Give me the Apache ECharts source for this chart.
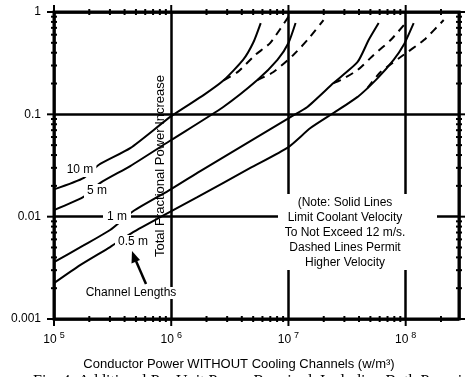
<!DOCTYPE html>
<html>
<head>
<meta charset="utf-8">
<script src="https://cdn.jsdelivr.net/npm/echarts@6/dist/echarts.min.js"></script>
<style>
html, body { margin: 0; padding: 0; background: #fff; }
#chart { width: 465px; height: 377px; }
</style>
</head>
<body>
<div id="chart"></div>
<script>
// axis ranges / tick labels
var xMin = 1e5, xMax = 2.85e8;
var yMin = 0.001, yMax = 1;
var xMajor = [1e5, 1e6, 1e7, 1e8];
var xTickLabels = ['5', '6', '7', '8'];
var yMajor = [0.001, 0.01, 0.1, 1];
var yTickLabels = ['0.001', '0.01', '0.1', '1'];

// 10 m channel
var len10x = [1e5, 1.8e5, 2.4e5, 4.5e5, 1e6, 1.9e6, 2.8e6, 4.1e6, 5e6, 5.8e6];
var len10y = [0.0185, 0.024, 0.032, 0.047, 0.096, 0.155, 0.215, 0.34, 0.5, 0.78];
var len10dx = [2.8e6, 3.7e6, 5.2e6, 7e6, 1.02e7];
var len10dy = [0.215, 0.26, 0.38, 0.5, 0.93];
// 5 m channel
var len5x = [1e5, 1.77e5, 2.47e5, 4.47e5, 1e6, 2.78e6, 5.43e6, 8.05e6, 1e7, 1.15e7];
var len5y = [0.0116, 0.0155, 0.0213, 0.0312, 0.0561, 0.118, 0.216, 0.34, 0.498, 0.78];
var len5dx = [5.43e6, 7.45e6, 1.1e7, 1.45e7, 1.99e7];
var len5dy = [0.216, 0.259, 0.38, 0.532, 0.835];
// 1 m channel
var len1x = [1e5, 1.77e5, 3.01e5, 4.73e5, 1e6, 1.77e6, 4.73e6, 1.04e7, 1.45e7, 2.42e7, 3.89e7, 4.83e7, 5.88e7];
var len1y = [0.0036, 0.0052, 0.0074, 0.0113, 0.0186, 0.0279, 0.0548, 0.094, 0.118, 0.202, 0.325, 0.532, 0.78];
var len1dx = [2.42e7, 2.78e7, 3.89e7, 5.33e7, 7.45e7, 1e8];
var len1dy = [0.202, 0.216, 0.271, 0.38, 0.532, 0.78];
// 0.5 m channel
var len05x = [1e5, 1.67e5, 3.01e5, 4.73e5, 8.06e5, 1.67e6, 4.73e6, 1e7, 1.54e7, 2.42e7, 3.89e7, 5.77e7, 7.89e7, 9.6e7, 1.17e8];
var len05y = [0.00224, 0.00336, 0.00505, 0.00707, 0.0099, 0.0155, 0.0299, 0.0479, 0.0734, 0.103, 0.148, 0.226, 0.34, 0.475, 0.78];
var len05dx = [4.73e7, 6.11e7, 9.05e7, 1.43e8, 2.11e8];
var len05dy = [0.181, 0.259, 0.363, 0.532, 0.835];

var FONT = '"Liberation Sans", Arial, sans-serif';

function zip(xs, ys) {
  return xs.map(function (x, i) { return [x, ys[i]]; });
}

// minor ticks 2..9 per decade
var xMinor = [], yMinor = [];
xMajor.forEach(function (d) {
  for (var k = 2; k < 10; k++) if (d * k < xMax) xMinor.push(d * k);
});
yMajor.slice(0, 3).forEach(function (d) {
  for (var k = 2; k < 10; k++) yMinor.push(d * k);
});

function curve(name, pts, dashed) {
  return {
    name: name,
    type: 'line',
    data: pts,
    smooth: 0.2,
    symbol: 'none',
    z: 3,
    lineStyle: { color: '#000', width: 2, type: dashed ? [8, 6] : 'solid' }
  };
}

// ticks on all four sides
function xTicks(vals, out, inn) {
  return {
    type: 'custom',
    data: vals.map(function (v) { return [v, yMin]; }),
    z: 4,
    silent: true,
    renderItem: function (params, api) {
      var v = api.value(0);
      var b = api.coord([v, yMin]), t = api.coord([v, yMax]);
      var st = { stroke: '#000', lineWidth: 2 };
      return { type: 'group', children: [
        { type: 'line', shape: { x1: b[0], y1: b[1] - inn, x2: b[0], y2: b[1] + out }, style: st },
        { type: 'line', shape: { x1: t[0], y1: t[1] + inn, x2: t[0], y2: t[1] - out }, style: st }
      ] };
    }
  };
}
function yTicks(vals, out, inn) {
  return {
    type: 'custom',
    data: vals.map(function (v) { return [xMin, v]; }),
    z: 4,
    silent: true,
    renderItem: function (params, api) {
      var v = api.value(1);
      var l = api.coord([xMin, v]), r = api.coord([xMax, v]);
      var st = { stroke: '#000', lineWidth: 2 };
      return { type: 'group', children: [
        { type: 'line', shape: { x1: l[0] + inn, y1: l[1], x2: l[0] - out, y2: l[1] }, style: st },
        { type: 'line', shape: { x1: r[0] - inn, y1: r[1], x2: r[0] + out, y2: r[1] }, style: st }
      ] };
    }
  };
}

function isDecade(v) {
  var e = Math.log10(v);
  return Math.abs(e - Math.round(e)) < 1e-6;
}

var chart = echarts.init(document.getElementById('chart'));
var option = {
  animation: false,
  backgroundColor: '#fff',
  grid: { left: 54, right: 6, top: 12, bottom: 58, show: true, borderColor: '#000', borderWidth: 3, backgroundColor: 'transparent' },
  xAxis: {
    type: 'log', logBase: 10, min: xMin, max: xMax,
    axisLine: { show: false }, axisTick: { show: false },
    splitLine: { show: true, lineStyle: { color: '#000', width: 2.5 } },
    axisLabel: {
      margin: 12, color: '#000', fontFamily: FONT,
      formatter: function (v) {
        if (!isDecade(v)) return '';
        var i = xMajor.indexOf(Math.pow(10, Math.round(Math.log10(v))));
        if (i < 0) return '';
        return '{b|10}{s|' + xTickLabels[i] + '}';
      },
      rich: {
        b: { fontSize: 12, fontFamily: FONT, color: '#000', lineHeight: 18 },
        s: { fontSize: 9, fontFamily: FONT, color: '#000', verticalAlign: 'top', padding: [0, 0, 0, 3], lineHeight: 10 }
      }
    }
  },
  yAxis: {
    type: 'log', logBase: 10, min: yMin, max: yMax,
    axisLine: { show: false }, axisTick: { show: false },
    splitLine: { show: true, lineStyle: { color: '#000', width: 2.5 } },
    axisLabel: {
      margin: 13, color: '#000', fontSize: 12, fontFamily: FONT,
      formatter: function (v) {
        if (!isDecade(v)) return '';
        var e = Math.round(Math.log10(v));
        return yTickLabels[e + 3] || '';
      }
    }
  },
  graphic: [
    { type: 'text', x: 160, y: 166, rotation: Math.PI / 2, z: 1,
      style: { text: 'Total Fractional Power Increase', fontSize: 13, fontFamily: FONT, fill: '#000', align: 'center', verticalAlign: 'middle' } },
    { type: 'rect', shape: { x: 278, y: 194, width: 159, height: 76 }, style: { fill: '#fff' }, z: 10 },
    { type: 'text', x: 345, y: 195, z: 11,
      style: { text: '(Note: Solid Lines\nLimit Coolant Velocity\nTo Not Exceed 12 m/s.\nDashed Lines Permit\nHigher Velocity',
        fontSize: 12, fontFamily: FONT, fill: '#000', align: 'center', verticalAlign: 'top', lineHeight: 15 } },
    { type: 'text', x: 80, y: 170, z: 11,
      style: { text: '10 m', fontSize: 12, fontFamily: FONT, fill: '#000', align: 'center', verticalAlign: 'middle', backgroundColor: '#fff', padding: [1, 3] } },
    { type: 'text', x: 97, y: 191, z: 11,
      style: { text: '5 m', fontSize: 12, fontFamily: FONT, fill: '#000', align: 'center', verticalAlign: 'middle', backgroundColor: '#fff', padding: [1, 3] } },
    { type: 'text', x: 117, y: 217, z: 11,
      style: { text: '1 m', fontSize: 12, fontFamily: FONT, fill: '#000', align: 'center', verticalAlign: 'middle', backgroundColor: '#fff', padding: [1, 4] } },
    { type: 'text', x: 133, y: 242, z: 11,
      style: { text: '0.5 m', fontSize: 12, fontFamily: FONT, fill: '#000', align: 'center', verticalAlign: 'middle', backgroundColor: '#fff', padding: [1, 3] } },
    { type: 'text', x: 131, y: 293, z: 11,
      style: { text: 'Channel Lengths', fontSize: 12, fontFamily: FONT, fill: '#000', align: 'center', verticalAlign: 'middle', backgroundColor: '#fff', padding: [0, 2] } },
    { type: 'line', z: 11, shape: { x1: 146, y1: 284, x2: 136, y2: 261 }, style: { stroke: '#000', lineWidth: 2.5 } },
    { type: 'polygon', z: 11, shape: { points: [[132, 251], [140, 260], [131.5, 263.5]] }, style: { fill: '#000' } },
    { type: 'text', x: 239, y: 364, z: 11,
      style: { text: 'Conductor Power WITHOUT Cooling Channels (w/m\u00b3)', fontSize: 13, fontFamily: FONT, fill: '#000', align: 'center', verticalAlign: 'middle' } },
    { type: 'text', x: 33, y: 374, z: 11,
      style: { text: 'Fig. 4  Additional Per Unit Power Required, Including Both Pumping', fontSize: 16, fontFamily: '"Liberation Serif", "Times New Roman", serif', fill: '#000', align: 'left', verticalAlign: 'top' } }
  ],
  series: [
    curve('10 m', zip(len10x, len10y), false),
    curve('10 m dashed', zip(len10dx, len10dy), true),
    curve('5 m', zip(len5x, len5y), false),
    curve('5 m dashed', zip(len5dx, len5dy), true),
    curve('1 m', zip(len1x, len1y), false),
    curve('1 m dashed', zip(len1dx, len1dy), true),
    curve('0.5 m', zip(len05x, len05y), false),
    curve('0.5 m dashed', zip(len05dx, len05dy), true),
    xTicks(xMajor, 7, 0),
    xTicks(xMinor, 3, 3),
    yTicks(yMajor, 7, 0),
    yTicks(yMinor, 3, 3)
  ]
};
chart.setOption(option);
</script>
</body>
</html>
